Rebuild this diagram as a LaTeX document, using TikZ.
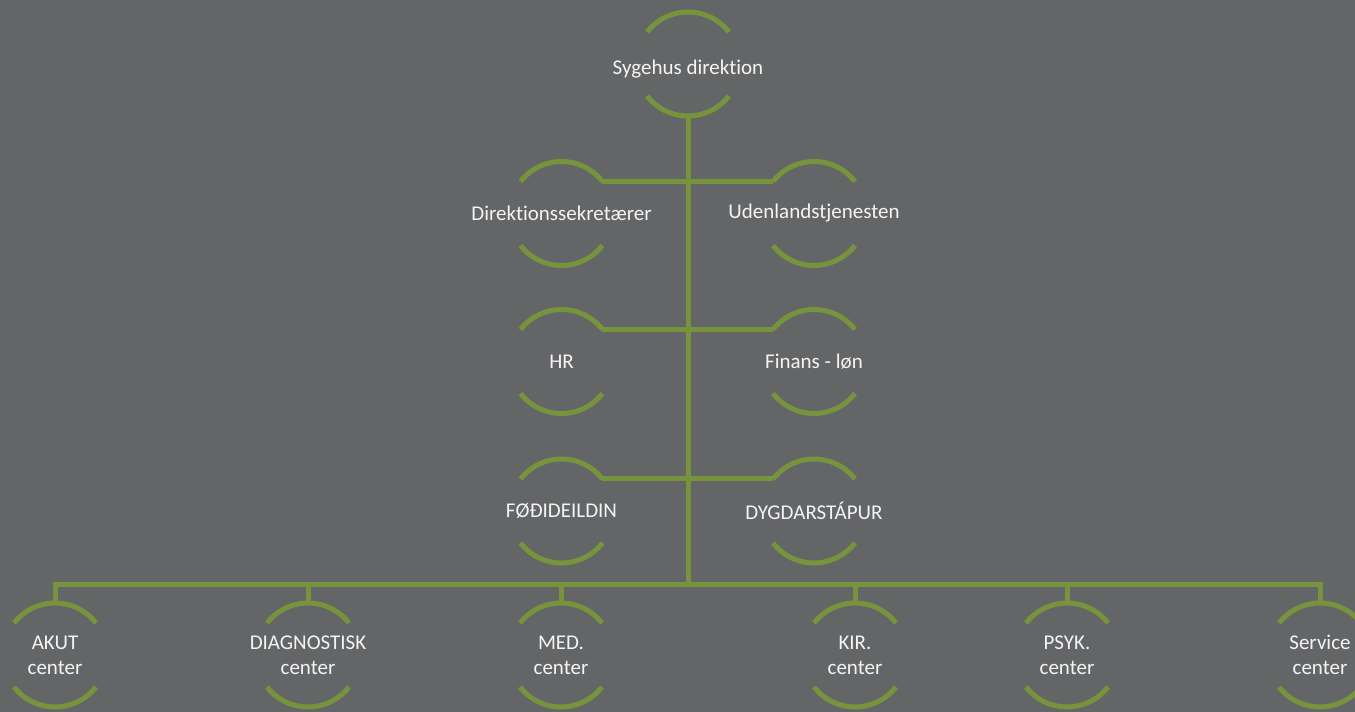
\documentclass[tikz,border=0pt]{standalone}
\usepackage{fontspec}
\setmainfont{Carlito}[Ligatures=NoCommon]
\definecolor{bggray}{HTML}{646567}
\definecolor{leafgreen}{HTML}{77933C}
\definecolor{paper}{HTML}{F4F4F4}

\begin{document}
\begin{tikzpicture}[x=1pt,y=1pt,
	unit/.style={text=paper,font=\fontsize{21}{25}\selectfont,align=center,inner sep=0pt},
	arcline/.style={leafgreen,line width=5pt},
	conn/.style={leafgreen,line width=5pt}]

	\fill [bggray] (0,0) rectangle (1355,712);
	\useasboundingbox (0,0) rectangle (1355,712);

	\node [unit,text height=25pt] (top) at (688,648) {Sygehus direktion};

	\node [unit] (dir) at (561.5,498.5) {Direktionssekretærer};
	\node [unit] (uden) at (814,498.5) {Udenlandstjenesten};
	\node [unit] (hr) at (561.5,350.5) {HR};
	\node [unit] (fin) at (814,350.5) {Finans - løn};
	\node [unit] (fod) at (561.5,201) {FØÐIDEILDIN};
	\node [unit] (dyg) at (814,201) {DYGDARSTÁPUR};

	\node [unit] (akut) at (55,57) {AKUT\\center};
	\node [unit] (diag) at (308,57) {DIAGNOSTISK\\center};
	\node [unit] (med) at (561,57) {MED.\\center};
	\node [unit] (kir) at (855,57) {KIR.\\center};
	\node [unit] (psyk) at (1067,57) {PSYK.\\center};
	\node [unit] (serv) at (1320,57) {Service\\center};

	\coordinate (bus) at (688,127);

	% arcs above and below each unit
	\foreach \n in {top,dir,uden,hr,fin,fod,dyg,akut,diag,med,kir,psyk,serv}{
		\draw [arcline] ([shift={(38:52pt)}]\n.center) arc [start angle=38,end angle=142,radius=52pt];
		\draw [arcline] ([shift={(218:52pt)}]\n.center) arc [start angle=218,end angle=322,radius=52pt];
	}

	% trunk
	\draw [conn] ([yshift=-52pt]top.center) -- (bus);

	\draw [conn] ([shift={(38:52pt)}]dir.center) -- ([shift={(142:52pt)}]uden.center);
	\draw [conn] ([shift={(38:52pt)}]hr.center) -- ([shift={(142:52pt)}]fin.center);
	\draw [conn] ([shift={(38:52pt)}]fod.center) -- ([shift={(142:52pt)}]dyg.center);

	% bus to the centers
	\draw [conn] ([yshift=52pt]akut.center) |- (bus);
	\draw [conn] ([yshift=52pt]serv.center) |- (bus);
	\foreach \n in {diag,med,kir,psyk}
		\draw [conn] ([yshift=52pt]\n.center) -- (\n.center |- bus);
\end{tikzpicture}
\end{document}
